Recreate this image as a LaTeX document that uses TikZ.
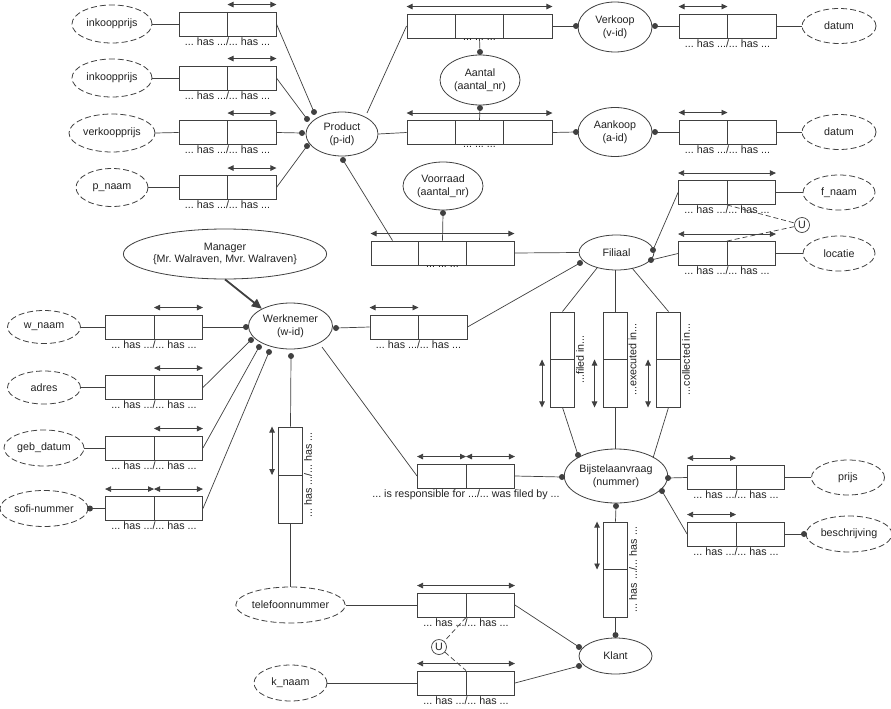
\documentclass[tikz,border=0pt]{standalone}
\usepackage{fontspec}
\setmainfont{Liberation Sans}
\usetikzlibrary{arrows.meta,shapes.geometric,calc}
\definecolor{ln}{HTML}{404040}
\definecolor{tx}{HTML}{222222}
\frenchspacing
\tikzset{
  ent/.style={ellipse, draw=ln, line width=0.8pt, inner sep=0pt, align=center, text=tx},
  val/.style={ent, dash pattern=on 6pt off 3pt},
  rb/.style={draw=ln, line width=0.9pt, minimum width=97pt, minimum height=24pt, inner sep=0pt,
    path picture={\draw[ln,line width=0.9pt] (path picture bounding box.north) -- (path picture bounding box.south);}},
  tb/.style={draw=ln, line width=0.9pt, minimum width=145pt, minimum height=24pt, inner sep=0pt,
    path picture={
      \draw[ln,line width=0.9pt] ($(path picture bounding box.north west)!1/3!(path picture bounding box.north east)$) -- ($(path picture bounding box.south west)!1/3!(path picture bounding box.south east)$);
      \draw[ln,line width=0.9pt] ($(path picture bounding box.north west)!2/3!(path picture bounding box.north east)$) -- ($(path picture bounding box.south west)!2/3!(path picture bounding box.south east)$);}},
  vb/.style={draw=ln, line width=0.9pt, minimum width=24pt, minimum height=95pt, inner sep=0pt,
    path picture={\draw[ln,line width=0.9pt] (path picture bounding box.west) -- (path picture bounding box.east);}},
  con/.style={draw=ln, line width=0.7pt},
  uline/.style={draw=ln, line width=0.7pt, dash pattern=on 5pt off 3pt},
  rar/.style={draw=ln, line width=0.8pt, {Triangle[length=6pt,width=5.5pt]}-{Triangle[length=6pt,width=5.5pt]}},
  lbl/.style={inner sep=1pt, text=tx},
  ucirc/.style={circle, draw=ln, line width=0.7pt, minimum size=15pt, inner sep=0pt, text=tx},
}
\begin{document}
\begin{tikzpicture}[x=1pt,y=-1pt,font=\fontsize{10.7}{12.5}\selectfont\frenchspacing]
\fill[white] (0,0) rectangle (891,709);
\useasboundingbox (0,0) rectangle (891,709);

% ---------- value ellipses ----------
\node[val, minimum width=80, minimum height=38] (ea1) at (112,24) {inkoopprijs};
\node[val, minimum width=80, minimum height=38] (ea2) at (112,78) {inkoopprijs};
\node[val, minimum width=86, minimum height=38] (ea3) at (112,133) {verkoopprijs};
\node[val, minimum width=72, minimum height=38] (ea4) at (112,187.5) {p\_naam};
\node[val, minimum width=74, minimum height=35] (edat1) at (839,26) {datum};
\node[val, minimum width=74, minimum height=35] (edat2) at (839,132) {datum};
\node[val, minimum width=72, minimum height=35] (efn) at (839,192.5) {f\_naam};
\node[val, minimum width=72, minimum height=35] (eloc) at (839,253.5) {locatie};
\node[val, minimum width=73, minimum height=33] (ewn) at (44,327) {w\_naam};
\node[val, minimum width=73, minimum height=33] (ead) at (44,387.5) {adres};
\node[val, minimum width=80, minimum height=36] (egd) at (44,448) {geb\_datum};
\node[val, minimum width=88, minimum height=36] (esn) at (44,508.5) {sofi-nummer};
\node[val, minimum width=73, minimum height=35] (epr) at (848,477.5) {prijs};
\node[val, minimum width=86, minimum height=36] (ebs) at (849,534) {beschrijving};
\node[val, minimum width=105, minimum height=36] (etel) at (290.5,605) {telefoonnummer};
\node[val, minimum width=73, minimum height=36] (ekn) at (290.5,683) {k\_naam};

% ---------- entity ellipses ----------
\node[ent, minimum width=72, minimum height=44] (prod) at (342,134) {Product\\(p-id)};
\node[ent, minimum width=74, minimum height=50] (verk) at (615,27) {Verkoop\\(v-id)};
\node[ent, minimum width=74, minimum height=49] (aank) at (615,132) {Aankoop\\(a-id)};
\node[ent, minimum width=80, minimum height=50] (aant) at (480,80) {Aantal\\(aantal\_nr)};
\node[ent, minimum width=80, minimum height=48] (voor) at (443,186) {Voorraad\\(aantal\_nr)};
\node[ent, minimum width=75, minimum height=35] (fil) at (616.5,252.5) {Filiaal};
\node[ent, minimum width=174, minimum height=50] (man) at (225,254) {Manager\\\{Mr. Walraven, Mvr. Walraven\}};
\node[ent, minimum width=84, minimum height=46] (wrk) at (290.5,326) {Werknemer\\(w-id)};
\node[ent, minimum width=100, minimum height=54] (bij) at (616,476) {Bijstelaanvraag\\(nummer)};
\node[ent, minimum width=73, minimum height=36] (kl) at (615.5,656) {Klant};

% ---------- binary role boxes ----------
\node[rb] (b1) at (227.5,24) {};
\node[rb] (b2) at (227.5,78) {};
\node[rb] (b3) at (227.5,132.5) {};
\node[rb] (b4) at (227.5,187.5) {};
\node[rb] (bv) at (727.5,26) {};
\node[rb] (ba) at (727.5,132) {};
\node[rb] (bfn) at (727,192.5) {};
\node[rb] (bloc) at (727,253.5) {};
\node[rb] (bwn) at (154,327) {};
\node[rb] (bad) at (154,387.5) {};
\node[rb] (bgd) at (154,448) {};
\node[rb] (bsn) at (154,508.5) {};
\node[rb] (bwf) at (418.5,327) {};
\node[rb] (bwb) at (466,476) {};
\node[rb] (bpr) at (736,477.5) {};
\node[rb] (bbs) at (736,534) {};
\node[rb] (btel) at (466,605) {};
\node[rb] (bkn) at (466,683) {};
% ternary
\node[tb] (t1) at (479.5,26) {};
\node[tb] (t2) at (479.5,132.5) {};
\node[tb, minimum width=143pt] (t3) at (442.5,253) {};
% vertical
\node[vb] (vfi) at (562.5,359.5) {};
\node[vb] (vex) at (615,359.5) {};
\node[vb] (vco) at (668.5,359.5) {};
\node[vb, minimum height=96pt] (vwt) at (290.5,475) {};
\node[vb] (vkl) at (615.5,569.5) {};

% ---------- labels ----------
\foreach \b in {b1,b2,b3,b4,bv,ba,bfn,bloc,bwn,bad,bgd,bsn,bwf,bpr,bbs,btel,bkn}
  \node[lbl, below] (l\b) at (\b.south) {... has .../... has ...};
\foreach \b in {t1,t2,t3}
  \node[lbl, below] (l\b) at (\b.south) {... ... ...};
\node[lbl, below] (lbwb) at (bwb.south) {... is responsible for .../... was filed by ...};
\node[lbl, rotate=90, anchor=north] (lvfi) at (vfi.east) {...filed in...};
\node[lbl, rotate=90, anchor=north] (lvex) at (vex.east) {...executed in...};
\node[lbl, rotate=90, anchor=north] (lvco) at (vco.east) {...collected in...};
\node[lbl, rotate=90, anchor=north] (lvwt) at (vwt.east) {... has .../... has ...};
\node[lbl, rotate=90, anchor=north] (lvkl) at (vkl.east) {... has .../... has ...};

% ---------- uniqueness circles ----------
\node[ucirc] (u1) at (802,225) {U};
\node[ucirc] (u2) at (439,647) {U};

% ---------- role arrows ----------
\foreach \b in {b1,b2,b3,b4,bwn,bad,bgd,bsn}
  \draw[rar] ([yshift=7pt]\b.north) -- ([yshift=7pt]\b.north east);
\foreach \b in {bv,ba,bwf,bpr,bbs,bsn,bwb}
  \draw[rar] ([yshift=7pt]\b.north west) -- ([yshift=7pt]\b.north);
\draw[rar] ([yshift=7pt]bwb.north) -- ([yshift=7pt]bwb.north east);
\foreach \b in {bfn,bloc,btel,bkn,t1,t2,t3}
  \draw[rar] ([yshift=7pt]\b.north west) -- ([yshift=7pt]\b.north east);
\foreach \b in {vfi,vex,vco}
  \draw[rar] ([xshift=-8pt]\b.west) -- ([xshift=-8pt]\b.south west);
\foreach \b in {vwt,vkl}
  \draw[rar] ([xshift=-6pt]\b.north west) -- ([xshift=-6pt]\b.west);

% ---------- attachment points ----------
\coordinate (pd1) at (314,112);
\coordinate (pd2) at (307,119);
\coordinate (pd3) at (302,133);
\coordinate (pd4) at (307,146);
\coordinate (pd5) at (343,160);
\coordinate (pa) at (367,113);
\coordinate (ad1) at (480,52);
\coordinate (ad2) at (480,108);
\coordinate (vd1) at (576,26);
\coordinate (vd2) at (655,26);
\coordinate (kd1a) at (576,132);
\coordinate (kd2a) at (655,132);
\coordinate (vod) at (443,213);
\coordinate (tt) at ([xshift=22pt]t3.north west);
\coordinate (fd1) at (653,250);
\coordinate (fd2) at (651,260);
\coordinate (fd3) at (580,263);
\coordinate (fb1) at (597,268);
\coordinate (fb3) at (632,268);
\coordinate (wd1) at (246,327);
\coordinate (wd2) at (251,340);
\coordinate (wd3) at (259,347);
\coordinate (wd4) at (269,352);
\coordinate (wd5) at (291,356);
\coordinate (wd6) at (336,328);
\coordinate (wb) at (322,347);
\coordinate (sd) at (90,508.5);
\coordinate (bd1) at (562,477);
\coordinate (bd2) at (578,455);
\coordinate (bd3) at (668,478);
\coordinate (bd4) at (662,491);
\coordinate (bd5) at (616,506);
\coordinate (bc) at (653,458);
\coordinate (sd2) at (804,534);
\coordinate (kd1) at (579,647);
\coordinate (kd2) at (579,666);
\coordinate (kd3) at (615.5,635);

% ---------- connectors ----------
\draw[con] (ea1.east) -- (b1.west);
\draw[con] (ea2.east) -- (b2.west);
\draw[con] (ea3.east) -- (b3.west);
\draw[con] (ea4.east) -- (b4.west);
\draw[con] (b1.east) -- (pd1);
\draw[con] (b2.east) -- (pd2);
\draw[con] (b3.east) -- (pd3);
\draw[con] (b4.east) -- (pd4);
\draw[con] (pa) -- (t1.west);
\draw[con] (prod.east) -- (t2.west);
\draw[con] (t1.south) -- (ad1);
\draw[con] (ad2) -- (t2.north);
\draw[con] (t1.east) -- (vd1);
\draw[con] (vd2) -- (bv.west);
\draw[con] (bv.east) -- (edat1.west);
\draw[con] (t2.east) -- (kd1a);
\draw[con] (kd2a) -- (ba.west);
\draw[con] (ba.east) -- (edat2.west);
\draw[con] (vod) -- (t3.north);
\draw[con] (pd5) -- (tt);
\draw[con] (t3.east) -- (fil.west);
\draw[con] (fd1) -- (bfn.west);
\draw[con] (fd2) -- (bloc.west);
\draw[con] (bfn.east) -- (efn.west);
\draw[con] (bloc.east) -- (eloc.west);
\draw[uline] (bfn.south) -- (u1);
\draw[uline] (u1) -- (bloc.north);
\draw[con] (bwf.east) -- (fd3);
\draw[con] (wd6) -- (bwf.west);
\draw[con] (ewn.east) -- (bwn.west);
\draw[con] (ead.east) -- (bad.west);
\draw[con] (egd.east) -- (bgd.west);
\draw[con] (bsn.west) -- (sd);
\draw[con] (bwn.east) -- (wd1);
\draw[con] (bad.east) -- (wd2);
\draw[con] (bgd.east) -- (wd3);
\draw[con] (bsn.east) -- (wd4);
\draw[con] (wd5) -- (vwt.north);
\draw[con] (vwt.south) -- (etel.north);
\draw[draw=ln, line width=1.8pt, -{Triangle[length=10pt,width=9pt]}] (man.south) -- (wrk.149);
\draw[con] (wb) -- (bwb.west);
\draw[con] (bwb.east) -- (bd1);
\draw[con] (fb1) -- (vfi.north);
\draw[con] (vex.north) -- (vex.north |- fil.south);
\draw[con] (fb3) -- (vco.north);
\draw[con] (vfi.south) -- (bd2);
\draw[con] (vex.south) -- (vex.south |- bij.north);
\draw[con] (vco.south) -- (bc);
\draw[con] (bd3) -- (bpr.west);
\draw[con] (bpr.east) -- (epr.west);
\draw[con] (bd4) -- (bbs.west);
\draw[con] (bbs.east) -- (sd2);
\draw[con] (bd5) -- (vkl.north);
\draw[con] (vkl.south) -- (kd3);
\draw[con] (btel.east) -- (kd1);
\draw[con] (bkn.east) -- (kd2);
\draw[con] (etel.east) -- (btel.west);
\draw[con] (ekn.east) -- (bkn.west);
\draw[uline] (btel.south) -- (u2);
\draw[uline] (u2) -- (bkn.north);

% ---------- dots ----------
\foreach \p in {pd1,pd2,pd3,pd4,pd5,ad1,ad2,vd1,vd2,kd1a,kd2a,vod,fd1,fd2,fd3,wd1,wd2,wd3,wd4,wd5,wd6,sd,bd1,bd2,bd3,bd4,bd5,sd2,kd1,kd2,kd3}
  \fill[ln] (\p) circle (3pt);
\end{tikzpicture}
\end{document}
